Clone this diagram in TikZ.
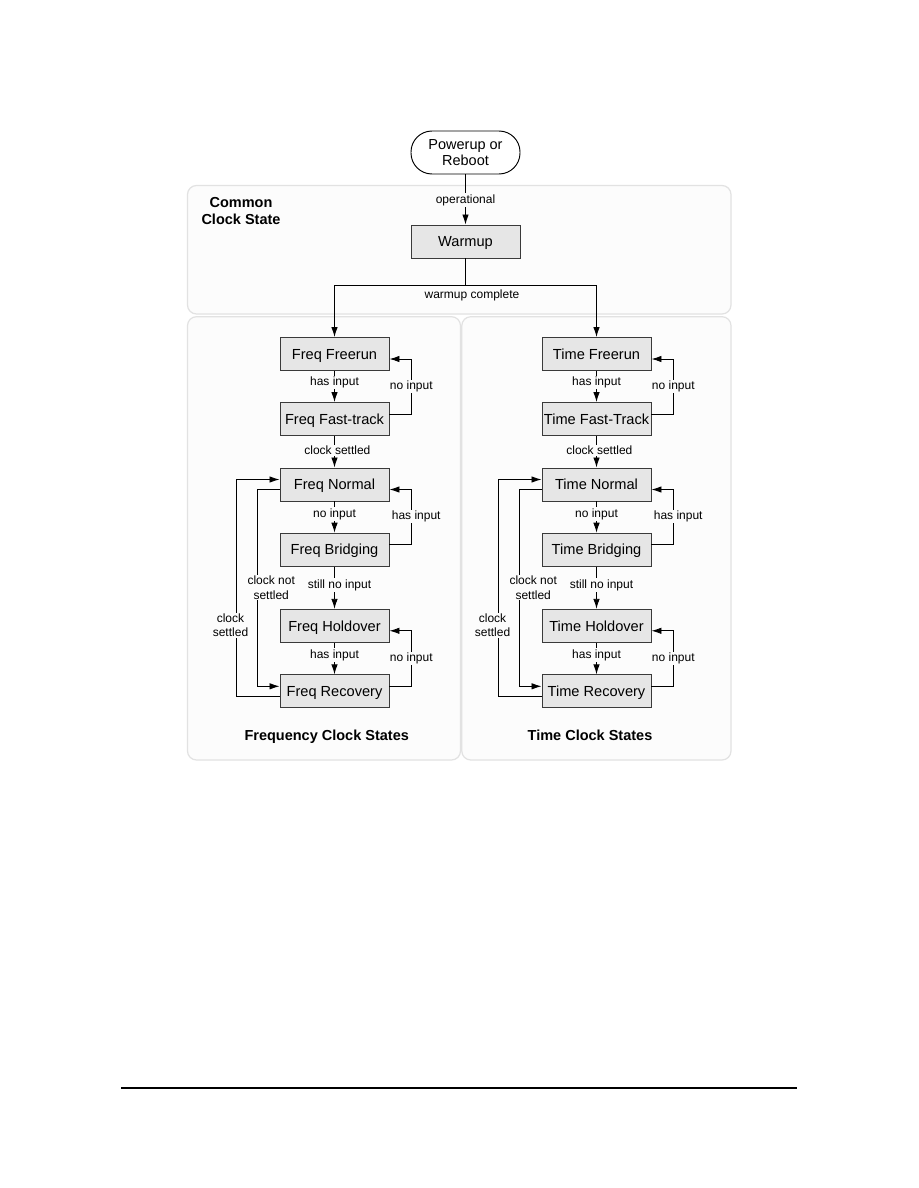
\documentclass[tikz,border=0pt]{standalone}
\usepackage{fontspec}
\setmainfont{Liberation Sans}
\usetikzlibrary{arrows.meta}
\definecolor{panelfill}{HTML}{FCFCFC}
\definecolor{panelline}{HTML}{E2E2E2}
\definecolor{statefill}{HTML}{E6E6E6}
\definecolor{stateline}{HTML}{3A3A3A}
\begin{document}
\begin{tikzpicture}[x=1pt,y=-1pt,
  >={Latex[length=10pt,width=6.5pt]},
  state/.style={draw=stateline,fill=statefill,line width=0.95pt,minimum width=109pt,
    minimum height=33pt,inner sep=0pt,text height=10.5pt,text depth=0pt,
    font=\fontsize{14.6}{17}\selectfont},
  lbl/.style={fill=panelfill,inner sep=1pt,font=\fontsize{12}{14.5}\selectfont,align=center},
  ttl/.style={font=\bfseries\fontsize{14.5}{17}\selectfont,align=center},
  panel/.style={draw=panelline,fill=panelfill,line width=1.2pt,rounded corners=9pt},
  flow/.style={draw=black,line width=0.9pt}]
\path[fill=white] (0,0) rectangle (918,1188);
\useasboundingbox (0,0) rectangle (918,1188);
% panels
\path[panel] (187.5,185.5) rectangle (731,314);
\path[panel] (187.5,316.7) rectangle (460.5,760);
\path[panel] (461.8,316.7) rectangle (731,760);
% titles
\node[ttl] (tcommon) at (241,211.5) {Common\\Clock State};
\node[ttl,anchor=base] (tfreq) at (326.7,740) {Frequency Clock States};
\node[ttl,anchor=base] (ttime) at (590,740) {Time Clock States};
% top part
\node[draw=black,line width=0.95pt,fill=white,rounded corners=21pt,minimum width=109pt,
  minimum height=43pt,align=center,font=\fontsize{14.5}{16}\selectfont] (pwr) at (465.5,152.5) {Powerup or\\Reboot};
\node[state] (warm) at (465.5,241.5) {Warmup};
\draw[flow,->] (pwr) -- (warm);
\node[lbl] (lop) at (465.5,200) {operational};
\coordinate (split) at (465.5,285.7);
\draw[flow] (warm) -- (split);
% columns
\foreach \p/\cx/\w/\ft in {f/334.5/Freq/Fast-track, t/596.5/Time/Fast-Track}{
  \node[state] (\p-free) at (\cx,354) {\w{} Freerun};
  \node[state] (\p-fast) at (\cx,419) {\w{} \ft};
  \node[state] (\p-norm) at (\cx,484.5) {\w{} Normal};
  \node[state] (\p-brid) at (\cx,549.7) {\w{} Bridging};
  \node[state] (\p-hold) at (\cx,625.8) {\w{} Holdover};
  \node[state] (\p-reco) at (\cx,691.3) {\w{} Recovery};
  \draw[flow,->] (split) -| (\p-free);
  \draw[flow,->] (\p-free) -- (\p-fast);
  \draw[flow,->] (\p-fast) -- (\p-norm);
  \draw[flow,->] (\p-norm) -- (\p-brid);
  \draw[flow,->] (\p-brid) -- (\p-hold);
  \draw[flow,->] (\p-hold) -- (\p-reco);
  \draw[flow,->] ([yshift=5pt]\p-fast.east) -- ++(22,0) |- ([yshift=-5pt]\p-free.east);
  \draw[flow,->] ([yshift=5pt]\p-brid.east) -- ++(22,0) |- ([yshift=-5pt]\p-norm.east);
  \draw[flow,->] ([yshift=5pt]\p-reco.east) -- ++(22,0) |- ([yshift=-5pt]\p-hold.east);
  \draw[flow,->] ([yshift=-5pt]\p-reco.west) -- ++(-43,0) |- ([yshift=5pt]\p-norm.west);
  \draw[flow,->] ([yshift=-5pt]\p-norm.west) -- ++(-22,0) |- ([yshift=5pt]\p-reco.west);
  \node[lbl] (\p-l1) at (\cx,382.7) {has input};
  \node[lbl] (\p-l2) at (\cx+76.8,386.7) {no input};
  \node[lbl] (\p-l3) at (\cx+2.9,450.7) {clock settled};
  \node[lbl] (\p-l4) at (\cx,514) {no input};
  \node[lbl] (\p-l5) at (\cx+81.7,516.7) {has input};
  \node[lbl] (\p-l6) at (\cx+5,585) {still no input};
  \node[lbl] (\p-l7) at (\cx,655) {has input};
  \node[lbl] (\p-l8) at (\cx+76.8,658.3) {no input};
  \node[lbl] (\p-l9) at (\cx-63.3,587.5) {clock not\\settled};
  \node[lbl] (\p-l10) at (\cx-104,625.3) {clock\\settled};
}
\node[font=\fontsize{12}{14.5}\selectfont] (lwc) at (472,295) {warmup complete};
% footer rule
\coordinate (rl) at (121,1088);
\coordinate (rr) at (797,1088);
\draw[line width=1.2pt] (rl) -- (rr);
\end{tikzpicture}
\end{document}
